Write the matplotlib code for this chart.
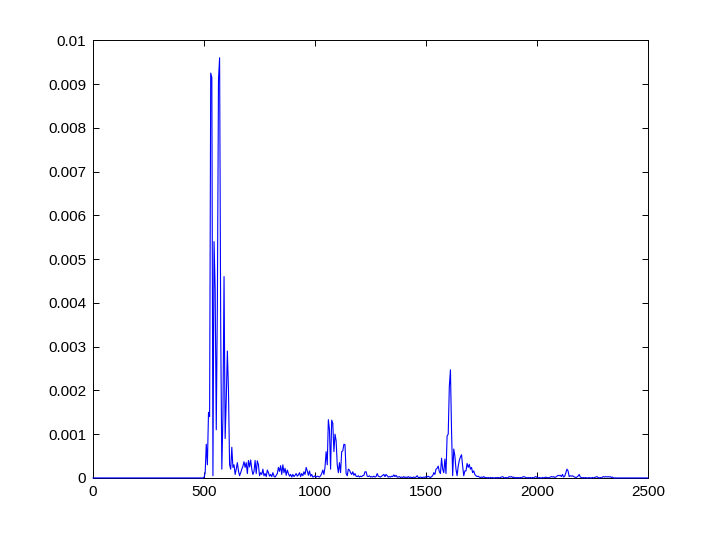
import numpy as np
import matplotlib
matplotlib.use("Agg")
import matplotlib.pyplot as plt

# Frequency grid of the sampled spectrum region (Hz), 5 Hz spacing
freq_grid = np.arange(480, 2355, 5)

# Spectrum magnitude in units of 1e-5, one value per grid point
power_e5 = [
    # 480-575
    0, 0, 0, 0, 1, 12, 77, 30, 150, 140, 925, 915, 5, 540, 430, 110, 400, 910, 960, 340,
    # 580-675
    20, 140, 460, 90, 180, 290, 200, 30, 20, 70, 24, 30, 8, 20, 35, 16, 5, 12, 20, 27,
    # 680-775
    37, 24, 35, 10, 40, 25, 41, 20, 8, 15, 40, 10, 39, 30, 5, 12, 8, 20, 5, 10,
    # 780-875
    3, 18, 12, 4, 8, 3, 12, 4, 2, 6, 10, 24, 15, 28, 8, 30, 12, 22, 6, 18,
    # 880-975
    10, 4, 8, 2, 8, 3, 6, 10, 4, 7, 12, 3, 10, 5, 14, 8, 24, 16, 6, 16,
    # 980-1075
    4, 8, 2, 3, 5, 2, 4, 3, 2, 5, 10, 18, 8, 25, 60, 30, 133, 110, 20, 132,
    # 1080-1175
    125, 60, 100, 85, 30, 12, 35, 12, 60, 62, 77, 76, 10, 5, 20, 18, 12, 8, 14, 6,
    # 1180-1275
    10, 4, 3, 5, 2, 4, 3, 5, 6, 14, 14, 4, 3, 5, 2, 3, 2, 4, 2, 3,
    # 1280-1375
    10, 4, 3, 2, 4, 6, 8, 3, 8, 5, 2, 3, 2, 4, 3, 7, 3, 6, 2, 2,
    # 1380-1475
    3, 1, 2, 1, 3, 1, 2, 1, 3, 1, 2, 1, 1, 2, 1, 2, 5, 1, 1, 2,
    # 1480-1575
    1, 1, 2, 1, 3, 2, 4, 2, 1, 3, 5, 12, 8, 20, 22, 27, 14, 10, 45, 20,
    # 1580-1675
    12, 43, 10, 96, 100, 209, 247, 107, 5, 66, 50, 20, 5, 27, 40, 48, 53, 27, 5, 16,
    # 1680-1775
    16, 33, 24, 31, 20, 24, 12, 16, 8, 5, 3, 4, 2, 1, 2, 1, 3, 1, 1, 0,
    # 1780-1875
    1, 0, 1, 0, 1, 0, 0, 1, 0, 1, 0, 1, 2, 3, 1, 0, 1, 0, 1, 3,
    # 1880-1975
    2, 3, 1, 2, 0, 1, 0, 1, 0, 1, 0, 2, 3, 2, 1, 0, 1, 0, 1, 0,
    # 1980-2075
    1, 0, 2, 3, 1, 0, 1, 0, 0, 1, 0, 1, 2, 0, 1, 0, 2, 3, 2, 3,
    # 2080-2175
    1, 2, 4, 6, 5, 6, 3, 8, 2, 4, 12, 20, 16, 3, 5, 4, 5, 3, 2, 1,
    # 2180-2275
    2, 4, 8, 2, 1, 0, 1, 0, 1, 0, 0, 1, 0, 0, 1, 0, 1, 2, 3, 1,
    # 2280-2350
    0, 1, 0, 2, 3, 2, 3, 2, 3, 2, 3, 1, 2, 0, 0,
]

# Flat (zero) ends of the spectrum
freq_edges = [0, 2500]

x_ticks = [0, 500, 1000, 1500, 2000, 2500]
y_ticks = [0, 0.001, 0.002, 0.003, 0.004, 0.005, 0.006, 0.007, 0.008, 0.009, 0.01]
y_tick_labels = ["0", "0.001", "0.002", "0.003", "0.004", "0.005",
                 "0.006", "0.007", "0.008", "0.009", "0.01"]

assert len(power_e5) == len(freq_grid)

freq = np.concatenate([[freq_edges[0]], freq_grid, [freq_edges[1]]])
power = np.concatenate([[0.0], np.array(power_e5, dtype=float) * 1e-5, [0.0]])

plt.rcParams['font.family'] = ['Liberation Sans', 'DejaVu Sans']

fig = plt.figure(figsize=(7.16, 5.37), dpi=100)
ax = fig.add_axes([0.13, 0.11, 0.775, 0.815])
ax.plot(freq, power, color=(0, 0, 1), linewidth=0.8, zorder=3, clip_on=False)

ax.set_xlim(0, 2500)
ax.set_ylim(0, 0.01)
ax.set_xticks(x_ticks)
ax.set_xticklabels([str(t) for t in x_ticks])
ax.set_yticks(y_ticks)
ax.set_yticklabels(y_tick_labels)
ax.tick_params(direction='in', length=4, width=0.7, top=True, right=True,
               labelsize=11, colors='black', pad=5)
for s in ax.spines.values():
    s.set_linewidth(0.7)
    s.set_color('black')

fig.savefig("out.png", dpi=100, facecolor='white')
